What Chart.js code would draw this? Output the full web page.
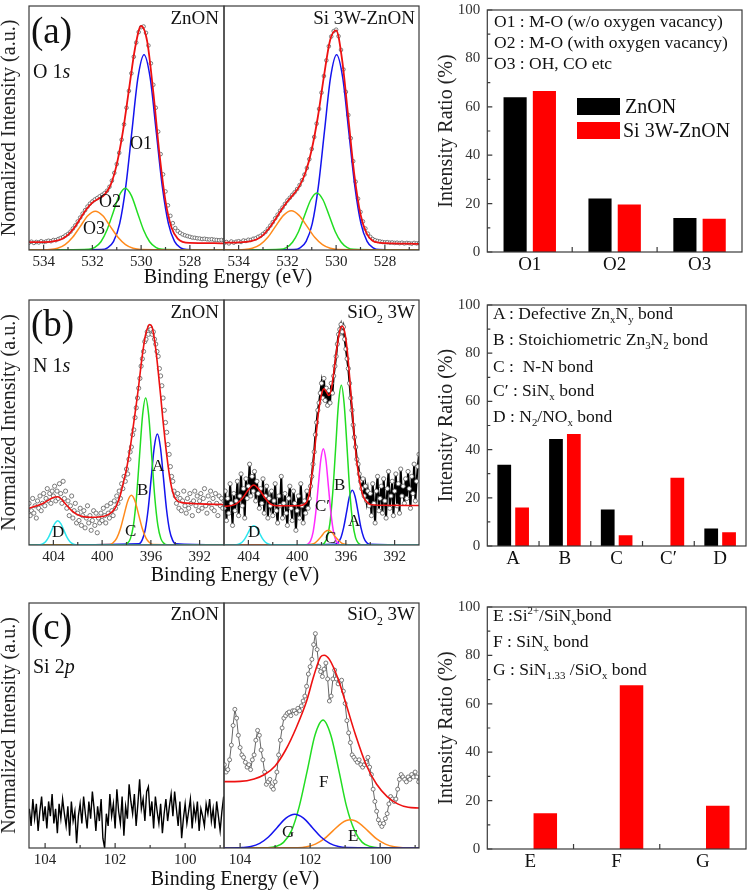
<!DOCTYPE html>
<html><head><meta charset="utf-8">
<script src="https://cdn.jsdelivr.net/npm/chart.js@4.4.1/dist/chart.umd.min.js"></script>
<style>
html,body{margin:0;padding:0;background:#fff;}
#root{position:relative;width:747px;height:890px;overflow:hidden;font-family:"Liberation Serif","Times New Roman",serif;color:#111;}
canvas{position:absolute;}
.t{position:absolute;white-space:nowrap;line-height:1;}
.t sub,.t sup{font-size:0.62em;line-height:0;position:relative;vertical-align:baseline;}
.t sub{top:0.38em;} .t sup{top:-0.6em;}
.box{position:absolute;}
</style></head>
<body><div id="root"></div>
<script>
// ---------------- DATA ----------------
// (a) O 1s
const O1S_TICKS = [534, 532, 530, 528];
const O1S_MINOR = [533, 531, 529, 527];
const O1S_RANGE = [526.6, 534.6];
const O1S_DATA_START = 534.6, O1S_DATA_STEP = 0.1;
const O1S_ZNON_DATA = [
 .030,.034,.029,.033,.031,.036,.032,.035,.038,.036,
 .041,.040,.045,.049,.053,.060,.066,.075,.088,.101,
 .117,.133,.149,.163,.178,.190,.199,.207,.213,.220,
 .226,.233,.243,.259,.284,.316,.352,.398,.452,.515,
 .583,.652,.724,.792,.850,.893,.913,.916,.890,.838,
 .765,.677,.583,.485,.393,.310,.240,.183,.140,.110,
 .090,.078,.070,.064,.060,.057,.054,.051,.050,.048,
 .047,.045,.046,.044,.043,.044,.042,.041,.040,.041,
 .040];
const O1S_ZNON_FIT = [[534.6,.032],[534.0,.032],[533.5,.037],[533.25,.045],[533.0,.062],[532.75,.090],[532.5,.128],[532.25,.166],[532.0,.194],[531.75,.210],[531.5,.227],[531.25,.267],[531.0,.351],[530.75,.484],[530.5,.656],[530.25,.827],[530.0,.918],[529.75,.854],[529.5,.646],[529.25,.396],[529.0,.200],[528.75,.091],[528.5,.047],[528.0,.029],[527.0,.028],[526.6,.027]];
const O1S_ZNON_O1 = [[534.6,0],[531.63,.002],[531.38,.009],[531.13,.035],[530.88,.108],[530.63,.26],[530.38,.485],[530.13,.706],[529.88,.80],[529.63,.706],[529.38,.485],[529.13,.26],[528.88,.108],[528.63,.035],[528.38,.009],[528.13,.002],[526.6,0]];
const O1S_ZNON_O2 = [[534.6,0],[532.15,.003],[531.9,.011],[531.65,.034],[531.4,.082],[531.15,.153],[530.9,.223],[530.65,.253],[530.4,.223],[530.15,.153],[529.9,.082],[529.65,.034],[529.4,.011],[529.15,.003],[526.6,0]];
const O1S_ZNON_O3 = [[534.6,0],[533.74,.002],[533.43,.007],[533.12,.022],[532.81,.052],[532.5,.096],[532.19,.140],[531.88,.159],[531.57,.140],[531.26,.096],[530.95,.052],[530.64,.022],[530.33,.007],[530.02,.002],[526.6,0]];
const O1S_SI_DATA = [
 .028,.033,.027,.035,.030,.034,.036,.033,.039,.037,
 .042,.041,.046,.048,.054,.058,.066,.074,.087,.100,
 .114,.130,.145,.161,.174,.189,.203,.214,.226,.237,
 .250,.266,.286,.309,.336,.372,.414,.463,.518,.578,
 .645,.713,.777,.835,.875,.897,.903,.876,.820,.740,
 .648,.553,.458,.364,.280,.210,.156,.117,.088,.067,
 .054,.045,.040,.037,.035,.033,.031,.032,.030,.031,
 .029,.030,.028,.030,.027,.029,.028,.026,.029,.027,
 .028];
const O1S_SI_FIT = [[534.6,.030],[534.0,.031],[533.5,.036],[533.25,.044],[533.0,.061],[532.75,.089],[532.5,.125],[532.25,.164],[532.0,.199],[531.75,.228],[531.5,.263],[531.25,.320],[531.0,.412],[530.75,.545],[530.5,.712],[530.25,.859],[530.0,.900],[529.75,.776],[529.5,.542],[529.25,.306],[529.0,.146],[528.75,.068],[528.5,.038],[528.25,.030],[528.0,.028],[527.0,.026],[526.6,.025]];
const O1S_SI_O1 = [[534.6,0],[531.73,.002],[531.48,.009],[531.23,.035],[530.98,.108],[530.73,.26],[530.48,.485],[530.23,.706],[529.98,.80],[529.73,.706],[529.48,.485],[529.23,.26],[528.98,.108],[528.73,.035],[528.48,.009],[528.23,.002],[526.6,0]];
const O1S_SI_O2 = [[534.6,0],[532.29,.003],[532.04,.010],[531.79,.032],[531.54,.076],[531.29,.142],[531.04,.206],[530.79,.234],[530.54,.206],[530.29,.142],[530.04,.076],[529.79,.032],[529.54,.010],[529.29,.003],[526.6,0]];
const O1S_SI_O3 = [[534.6,0],[533.76,.002],[533.44,.007],[533.12,.022],[532.8,.052],[532.48,.098],[532.16,.142],[531.84,.161],[531.52,.142],[531.2,.098],[530.88,.052],[530.56,.022],[530.24,.007],[529.92,.002],[526.6,0]];

// (b) N 1s
const N1S_TICKS = [404, 400, 396, 392];
const N1S_MINOR = [402, 398, 394];
const N1S_RANGE = [390, 406];
const N1S_DATA_START = 406.0, N1S_DATA_STEP = 0.1;
const N1S_ZNON_DATA = [
 .17,.12,.14,.19,.13,.16,.11,.18,.15,.20,
 .14,.17,.21,.16,.19,.23,.18,.21,.17,.22,
 .20,.24,.18,.22,.19,.25,.21,.17,.26,.19,
 .22,.15,.18,.12,.16,.20,.11,.14,.17,.09,
 .13,.10,.15,.08,.12,.14,.07,.11,.16,.09,
 .12,.06,.10,.14,.08,.13,.05,.11,.09,.13,
 .10,.15,.12,.09,.16,.13,.11,.17,.14,.12,
 .18,.15,.20,.17,.22,.19,.25,.23,.28,.26,
 .31,.29,.35,.38,.40,.45,.47,.52,.56,.60,
 .64,.68,.73,.76,.79,.83,.84,.87,.86,.89,
 .88,.86,.87,.84,.82,.79,.77,.72,.69,.65,
 .60,.55,.50,.46,.41,.37,.32,.28,.26,.22,
 .20,.17,.21,.15,.19,.14,.18,.22,.16,.13,
 .19,.15,.21,.17,.12,.18,.22,.16,.20,.14,
 .18,.21,.15,.19,.23,.16,.13,.20,.17,.22,
 .15,.19,.14,.21,.17,.12,.20,.16,.19,.15,
 .18];
const N1S_ZNON_FIT = [[406.0,.150],[405.5,.158],[405.0,.166],[404.5,.180],[404.0,.194],[403.64,.197],[403.3,.185],[403.0,.167],[402.5,.140],[402.1,.126],[401.5,.115],[401.0,.113],[400.5,.113],[400.0,.116],[399.5,.124],[399.0,.145],[398.8,.164],[398.5,.205],[398.3,.246],[398.0,.310],[397.7,.396],[397.5,.465],[397.2,.573],[397.0,.650],[396.8,.736],[396.6,.810],[396.43,.859],[396.2,.895],[396.1,.900],[395.9,.890],[395.77,.859],[395.6,.800],[395.4,.709],[395.2,.610],[395.0,.505],[394.8,.410],[394.6,.328],[394.4,.260],[394.18,.212],[394.0,.190],[393.77,.178],[393.5,.174],[393.1,.171],[392.0,.168],[390.0,.165]];
const N1S_ZNON_A = [[406,0],[396.97,.005],[396.72,.020],[396.47,.061],[396.22,.147],[395.97,.275],[395.72,.400],[395.47,.453],[395.22,.400],[394.97,.275],[394.72,.147],[394.47,.061],[394.22,.020],[393.97,.005],[390,0]];
const N1S_ZNON_B = [[406,0],[398.18,.001],[397.93,.007],[397.68,.026],[397.43,.081],[397.18,.195],[396.93,.364],[396.68,.53],[396.43,.60],[396.18,.53],[395.93,.364],[395.68,.195],[395.43,.081],[395.18,.026],[394.93,.007],[394.68,.001],[390,0]];
const N1S_ZNON_C = [[406,0],[399.4,.002],[399.1,.009],[398.8,.028],[398.5,.066],[398.2,.123],[397.9,.179],[397.6,.203],[397.3,.179],[397.0,.123],[396.7,.066],[396.4,.028],[396.1,.009],[395.8,.002],[390,0]];
const N1S_ZNON_D = [[406,0],[405.14,.001],[404.89,.004],[404.64,.013],[404.39,.032],[404.14,.060],[403.89,.087],[403.64,.099],[403.39,.087],[403.14,.060],[402.89,.032],[402.64,.013],[402.39,.004],[402.14,.001],[390,0]];
const N1S_SI_DATA = [
 .15,.22,.10,.19,.13,.25,.17,.08,.21,.14,
 .18,.26,.12,.20,.29,.16,.23,.11,.27,.19,
 .24,.33,.20,.28,.22,.30,.18,.26,.21,.15,
 .23,.17,.27,.13,.20,.24,.11,.19,.16,.22,
 .12,.18,.25,.14,.09,.20,.16,.28,.11,.17,
 .21,.13,.08,.19,.24,.15,.10,.22,.17,.06,
 .14,.20,.11,.25,.16,.09,.18,.13,.22,.15,
 .19,.24,.28,.33,.38,.45,.50,.55,.58,.62,
 .66,.60,.68,.59,.64,.57,.63,.58,.66,.62,
 .69,.73,.77,.82,.86,.88,.90,.87,.89,.84,
 .80,.76,.72,.66,.60,.55,.49,.44,.40,.35,
 .33,.29,.26,.23,.27,.20,.24,.18,.22,.16,
 .21,.12,.25,.17,.09,.22,.28,.14,.19,.24,
 .13,.27,.18,.11,.23,.30,.15,.20,.26,.12,
 .22,.29,.16,.25,.13,.31,.20,.24,.17,.27,
 .19,.30,.23,.15,.28,.21,.33,.18,.26,.32,
 .37];
const N1S_SI_FIT = [[406.0,.158],[405.5,.160],[405.0,.168],[404.5,.190],[404.0,.225],[403.56,.245],[403.1,.225],[402.6,.190],[402.2,.168],[401.7,.160],[400.0,.160],[399.3,.170],[399.0,.210],[398.75,.300],[398.5,.420],[398.25,.540],[398.0,.615],[397.8,.638],[397.6,.625],[397.4,.610],[397.2,.635],[397.0,.700],[396.8,.780],[396.6,.850],[396.4,.890],[396.29,.893],[396.1,.870],[395.9,.800],[395.7,.690],[395.5,.560],[395.3,.440],[395.1,.340],[394.9,.270],[394.7,.220],[394.5,.190],[394.2,.172],[394.0,.165],[393.0,.162],[390.0,.161]];
const N1S_SI_A = [[406,0],[396.88,.003],[396.65,.010],[396.41,.030],[396.18,.072],[395.94,.135],[395.71,.197],[395.47,.223],[395.24,.197],[395.0,.135],[394.77,.072],[394.53,.030],[394.3,.010],[394.06,.003],[390,0]];
const N1S_SI_B = [[406,0],[398.02,.001],[397.78,.007],[397.55,.029],[397.31,.088],[397.08,.212],[396.84,.395],[396.61,.575],[396.37,.652],[396.14,.575],[395.9,.395],[395.67,.212],[395.43,.088],[395.2,.029],[394.96,.007],[394.73,.001],[390,0]];
const N1S_SI_C = [[406,0],[399.1,.001],[398.83,.003],[398.55,.008],[398.28,.020],[398.0,.036],[397.73,.053],[397.45,.060],[397.18,.053],[396.9,.036],[396.63,.020],[396.35,.008],[396.08,.003],[395.8,.001],[390,0]];
const N1S_SI_C2 = [[406,0],[399.32,.001],[399.11,.004],[398.9,.017],[398.69,.053],[398.48,.128],[398.27,.238],[398.06,.347],[397.85,.393],[397.64,.347],[397.43,.238],[397.22,.128],[397.01,.053],[396.8,.017],[396.59,.004],[396.38,.001],[390,0]];
const N1S_SI_D = [[406,0],[405.0,.001],[404.76,.004],[404.52,.011],[404.28,.026],[404.04,.048],[403.8,.070],[403.56,.079],[403.32,.070],[403.08,.048],[402.84,.026],[402.6,.011],[402.36,.004],[402.12,.001],[390,0]];

// (c) Si 2p
const SI2P_TICKS = [104, 102, 100];
const SI2P_MINOR = [103, 101, 99];
const SI2P_RANGE = [98.89, 104.46];
const SI2P_DATA_START = 104.45, SI2P_DATA_STEP = 0.05;
const SI2P_ZNON_DATA = [
 .16,.09,.20,.12,.18,.07,.15,.21,.11,.17,
 .08,.19,.13,.22,.10,.16,.06,.18,.12,.20,
 .14,.09,.17,.05,.19,.11,.15,.02,.13,.18,
 .10,.21,.14,.08,.19,.12,.23,.16,.07,.17,
 .11,.20,.04,.00,.14,.09,.22,.13,.18,.08,
 .24,.15,.10,.21,.05,.17,.12,.26,.19,.14,
 .22,.09,.18,.28,.16,.20,.11,.23,.25,.13,
 .19,.08,.21,.15,.10,.18,.06,.14,.20,.11,
 .17,.22,.13,.23,.16,.09,.19,.04,.12,.18,
 .10,.15,.20,.08,.17,.12,.19,.07,.16,.13,
 .09,.18,.14,.20,.11,.16,.08,.19,.13,.07,
 .15,.21];
const SI2P_SI_DATA = [
 .34,.31,.32,.36,.42,.50,.566,.53,.46,.41,
 .38,.37,.35,.33,.34,.32,.36,.38,.44,.48,
 .46,.40,.36,.31,.26,.27,.28,.25,.24,.27,
 .31,.38,.44,.49,.53,.54,.55,.555,.54,.56,
 .56,.55,.57,.56,.58,.60,.62,.66,.71,.74,
 .77,.83,.875,.81,.74,.72,.70,.73,.755,.69,
 .60,.62,.69,.726,.69,.67,.68,.685,.64,.59,
 .52,.47,.43,.38,.37,.36,.35,.36,.34,.33,
 .34,.35,.37,.33,.30,.24,.19,.15,.115,.10,
 .088,.10,.12,.14,.18,.21,.20,.19,.20,.24,
 .28,.30,.29,.28,.27,.29,.28,.30,.29,.31,
 .29,.27];
const SI2P_SI_FIT = [[104.46,.271],[104.0,.272],[103.6,.282],[103.3,.300],[103.0,.335],[102.7,.400],[102.4,.490],[102.1,.600],[101.9,.700],[101.7,.780],[101.6,.787],[101.45,.770],[101.2,.690],[101.0,.600],[100.7,.460],[100.4,.340],[100.1,.260],[99.8,.210],[99.5,.180],[99.2,.166],[98.89,.163]];
const SI2P_SI_E = [[104.46,0],[102.35,.001],[102.1,.005],[101.85,.016],[101.6,.037],[101.35,.070],[101.1,.102],[100.85,.115],[100.6,.102],[100.35,.070],[100.1,.037],[99.85,.016],[99.6,.005],[99.35,.001],[98.89,0]];
const SI2P_SI_F = [[104.46,0],[103.21,.001],[102.98,.006],[102.76,.023],[102.53,.071],[102.31,.170],[102.08,.317],[101.86,.461],[101.63,.522],[101.41,.461],[101.18,.317],[100.96,.170],[100.73,.071],[100.51,.023],[100.28,.006],[100.06,.001],[98.89,0]];
const SI2P_SI_G = [[104.46,0],[103.94,.002],[103.69,.006],[103.44,.019],[103.19,.045],[102.94,.084],[102.69,.122],[102.44,.138],[102.19,.122],[101.94,.084],[101.69,.045],[101.44,.019],[101.19,.006],[100.94,.002],[98.89,0]];

// Bar charts (intensity ratio, %)
const RATIO_TICKS = [0, 20, 40, 60, 80, 100];
const RATIO_MINOR = [10, 30, 50, 70, 90];
const SERIES_NAMES = ['ZnON', 'Si 3W-ZnON'];
const O_CATS = ['O1', 'O2', 'O3'];
const O_ZNON = [63.9, 22.1, 14.1];
const O_SI = [66.5, 19.6, 13.7];
const N_CATS = ['A', 'B', 'C', 'C\u2032', 'D'];
const N_ZNON = [33.7, 44.4, 15.1, 0, 7.3];
const N_SI = [16.0, 46.5, 4.5, 28.3, 5.7];
const SI_CATS = ['E', 'F', 'G'];
const SI_ZNON = [null, null, null];
const SI_SI = [14.8, 67.7, 17.9];

// ---------------- RENDER ----------------
const FONT = '"Liberation Serif","Times New Roman",serif';
Chart.defaults.font.family = FONT;
Chart.defaults.color = '#222';
const root = document.getElementById('root');

const COL = {red:'#ee1111', blue:'#1414ee', green:'#22dd22', orange:'#ff8a1c', cyan:'#2ee6ee', magenta:'#ff2bff'};

function canvasAt(l, t, w, h) {
  const c = document.createElement('canvas');
  c.width = w; c.height = h;
  c.style.left = l + 'px'; c.style.top = t + 'px';
  c.style.width = w + 'px'; c.style.height = h + 'px';
  root.appendChild(c);
  return c;
}
function addText(html, x, base, fs, align, extra) {
  const d = document.createElement('div');
  d.className = 't';
  d.innerHTML = html;
  d.style.fontSize = fs + 'px';
  d.style.top = (base - 0.8375 * fs) + 'px';
  d.style.left = x + 'px';
  if (align === 'right') d.style.transform = 'translateX(-100%)';
  else if (align === 'center') d.style.transform = 'translateX(-50%)';
  if (extra) Object.assign(d.style, extra);
  root.appendChild(d);
}
function addBox(x, y, w, h, color) {
  const d = document.createElement('div');
  d.className = 'box';
  Object.assign(d.style, {left:x+'px', top:y+'px', width:w+'px', height:h+'px', background:color});
  root.appendChild(d);
}

const framePlugin = {
  id: 'frame',
  afterDraw(chart, args, o) {
    const {ctx, chartArea: a} = chart;
    const sx = chart.scales.x, sy = chart.scales.y;
    ctx.save();
    ctx.strokeStyle = '#3a3a3a';
    ctx.lineWidth = 1.2;
    ctx.strokeRect(a.left, a.top, a.right - a.left, a.bottom - a.top);
    ctx.beginPath();
    const L = 5, l = 3;
    (o.xMajor || []).forEach(v => { const p = sx.getPixelForValue(v); ctx.moveTo(p, a.bottom); ctx.lineTo(p, a.bottom - L); });
    (o.xMinor || []).forEach(v => { const p = sx.getPixelForValue(v); ctx.moveTo(p, a.bottom); ctx.lineTo(p, a.bottom - l); });
    if (o.catBounds) {
      const n = sx.ticks.length;
      for (let i = 0; i < n - 1; i++) {
        const p = (sx.getPixelForTick(i) + sx.getPixelForTick(i + 1)) / 2;
        ctx.moveTo(p, a.bottom); ctx.lineTo(p, a.bottom - L);
      }
    }
    (o.yMajor || []).forEach(v => { const p = sy.getPixelForValue(v); ctx.moveTo(a.left, p); ctx.lineTo(a.left + L, p); });
    (o.yMinor || []).forEach(v => { const p = sy.getPixelForValue(v); ctx.moveTo(a.left, p); ctx.lineTo(a.left + l, p); });
    ctx.stroke();
    ctx.restore();
  }
};

function fitDS(pairs, color, width, order) {
  return {data: pairs.map(p => ({x: p[0], y: p[1]})), borderColor: color, borderWidth: width,
    pointRadius: 0, cubicInterpolationMode: 'monotone', fill: false, order: order};
}
function dataDS(values, start, step, st) {
  return Object.assign({
    data: values.map((v, i) => ({x: +(start - i * step).toFixed(3), y: v})),
    showLine: false, pointRadius: 2, pointBorderWidth: 0.8, pointBorderColor: '#5a5a5a',
    pointBackgroundColor: '#ffffff', borderColor: '#000', borderWidth: 1, tension: 0, fill: false, order: 10
  }, st || {});
}

function spectrum(cfg) {
  const top = cfg.plotTop - 12;
  const h = cfg.plotBottom - top + 22;
  const c = canvasAt(cfg.canvasLeft, top, cfg.canvasWidth, h);
  const yOpts = {display: !!cfg.yTitle, min: 0, max: 1, ticks: {display: false},
    grid: {display: false, drawTicks: false}, border: {display: false},
    title: {display: !!cfg.yTitle, text: cfg.yTitle || '', font: {size: 20, lineHeight: 1}, padding: 0, color: '#222'}};
  if (cfg.yTitle) yOpts.afterFit = s => { s.width = cfg.plotLeft - cfg.canvasLeft; };
  new Chart(c, {
    type: 'line',
    data: {datasets: cfg.datasets},
    options: {
      responsive: false, animation: false, devicePixelRatio: 1, events: [],
      layout: {autoPadding: false, padding: {top: 12, bottom: 0, left: cfg.yTitle ? 0 : cfg.plotLeft - cfg.canvasLeft, right: cfg.canvasLeft + cfg.canvasWidth - cfg.plotRight}},
      plugins: {legend: {display: false}, tooltip: {enabled: false}, frame: {xMajor: cfg.ticks, xMinor: cfg.minor}},
      scales: {
        x: {type: 'linear', reverse: true, min: cfg.range[0], max: cfg.range[1],
          afterBuildTicks: s => { s.ticks = cfg.ticks.map(v => ({value: v})); },
          ticks: {autoSkip: false, maxRotation: 0, padding: 3, font: {size: 15}, color: '#222', callback: v => String(v)},
          grid: {display: false, drawTicks: false}, border: {display: false},
          afterFit: s => { s.height = 22; }},
        y: yOpts
      }
    },
    plugins: [framePlugin]
  });
}

function bars(cfg) {
  const top = cfg.plotTop - 12;
  const h = cfg.plotBottom - top + 28;
  const c = canvasAt(420, top, 327, h);
  new Chart(c, {
    type: 'bar',
    data: {labels: cfg.cats, datasets: [
      {label: SERIES_NAMES[0], data: cfg.s1, backgroundColor: '#000000', borderWidth: 0, categoryPercentage: cfg.cp, barPercentage: cfg.bp},
      {label: SERIES_NAMES[1], data: cfg.s2, backgroundColor: '#ff0000', borderWidth: 0, categoryPercentage: cfg.cp, barPercentage: cfg.bp}
    ]},
    options: {
      responsive: false, animation: false, devicePixelRatio: 1, events: [],
      layout: {autoPadding: false, padding: {top: 12, bottom: 0, left: 0, right: 747 - cfg.plotRight}},
      plugins: {legend: {display: false}, tooltip: {enabled: false},
        frame: {yMajor: RATIO_TICKS, yMinor: RATIO_MINOR, catBounds: true}},
      scales: {
        x: {type: 'category', ticks: {font: {size: 19}, padding: 2, color: '#111'},
          grid: {display: false, drawTicks: false}, border: {display: false},
          afterFit: s => { s.height = 28; }},
        y: {min: 0, max: 100, afterBuildTicks: s => { s.ticks = RATIO_TICKS.map(v => ({value: v})); },
          ticks: {font: {size: 15}, padding: 7, color: '#333'},
          grid: {display: false, drawTicks: false}, border: {display: false},
          title: {display: true, text: 'Intensity Ratio (%)', font: {size: 20, lineHeight: 1}, padding: {top: 16.7, bottom: 0}, color: '#222'},
          afterFit: s => { s.width = 67.3; }}
      }
    },
    plugins: [framePlugin]
  });
}

const ROWS = [{t: 6, b: 250}, {t: 300, b: 545}, {t: 603, b: 848}];
const YT = 'Normalized Intensity (a.u.)';

// Row (a)
spectrum({canvasLeft: 0, canvasWidth: 226, plotLeft: 29, plotRight: 224, plotTop: ROWS[0].t, plotBottom: ROWS[0].b, yTitle: YT,
  range: O1S_RANGE, ticks: O1S_TICKS, minor: O1S_MINOR, datasets: [
    dataDS(O1S_ZNON_DATA, O1S_DATA_START, O1S_DATA_STEP, {pointRadius: 1.8}),
    fitDS(O1S_ZNON_O3, COL.orange, 1.5, 5), fitDS(O1S_ZNON_O2, COL.green, 1.5, 5), fitDS(O1S_ZNON_O1, COL.blue, 1.5, 5),
    fitDS(O1S_ZNON_FIT, COL.red, 1.8, 1)]});
spectrum({canvasLeft: 222, canvasWidth: 200, plotLeft: 224, plotRight: 419, plotTop: ROWS[0].t, plotBottom: ROWS[0].b,
  range: O1S_RANGE, ticks: O1S_TICKS, minor: O1S_MINOR, datasets: [
    dataDS(O1S_SI_DATA, O1S_DATA_START, O1S_DATA_STEP, {pointRadius: 1.8}),
    fitDS(O1S_SI_O3, COL.orange, 1.5, 5), fitDS(O1S_SI_O2, COL.green, 1.5, 5), fitDS(O1S_SI_O1, COL.blue, 1.5, 5),
    fitDS(O1S_SI_FIT, COL.red, 1.8, 1)]});
bars({plotTop: 6, plotBottom: 252, plotRight: 742, cats: O_CATS, s1: O_ZNON, s2: O_SI, cp: 0.69, bp: 0.79});

// Row (b)
spectrum({canvasLeft: 0, canvasWidth: 226, plotLeft: 29, plotRight: 224, plotTop: ROWS[1].t, plotBottom: ROWS[1].b, yTitle: YT,
  range: N1S_RANGE, ticks: N1S_TICKS, minor: N1S_MINOR, datasets: [
    dataDS(N1S_ZNON_DATA, N1S_DATA_START, N1S_DATA_STEP, {pointRadius: 2.1}),
    fitDS(N1S_ZNON_D, COL.cyan, 1.5, 5), fitDS(N1S_ZNON_C, COL.orange, 1.5, 5), fitDS(N1S_ZNON_B, COL.green, 1.5, 5), fitDS(N1S_ZNON_A, COL.blue, 1.5, 5),
    fitDS(N1S_ZNON_FIT, COL.red, 1.6, 1)]});
spectrum({canvasLeft: 222, canvasWidth: 200, plotLeft: 224, plotRight: 419, plotTop: ROWS[1].t, plotBottom: ROWS[1].b,
  range: N1S_RANGE, ticks: N1S_TICKS, minor: N1S_MINOR, datasets: [
    dataDS(N1S_SI_DATA, N1S_DATA_START, N1S_DATA_STEP, {pointRadius: 2.1, showLine: true, borderColor: '#000', borderWidth: 2}),
    fitDS(N1S_SI_D, COL.cyan, 1.5, 5), fitDS(N1S_SI_C, COL.orange, 1.5, 5), fitDS(N1S_SI_C2, COL.magenta, 1.5, 5),
    fitDS(N1S_SI_B, COL.green, 1.5, 5), fitDS(N1S_SI_A, COL.blue, 1.5, 5),
    fitDS(N1S_SI_FIT, COL.red, 1.6, 1)]});
bars({plotTop: 301, plotBottom: 546, plotRight: 746, cats: N_CATS, s1: N_ZNON, s2: N_SI, cp: 0.69, bp: 0.77});

// Row (c)
spectrum({canvasLeft: 0, canvasWidth: 226, plotLeft: 29, plotRight: 224, plotTop: ROWS[2].t, plotBottom: ROWS[2].b, yTitle: YT,
  range: SI2P_RANGE, ticks: SI2P_TICKS, minor: SI2P_MINOR, datasets: [
    dataDS(SI2P_ZNON_DATA, SI2P_DATA_START, SI2P_DATA_STEP, {showLine: true, pointRadius: 0, borderColor: '#000', borderWidth: 1.4})]});
spectrum({canvasLeft: 222, canvasWidth: 200, plotLeft: 224, plotRight: 419, plotTop: ROWS[2].t, plotBottom: ROWS[2].b,
  range: SI2P_RANGE, ticks: SI2P_TICKS, minor: SI2P_MINOR, datasets: [
    dataDS(SI2P_SI_DATA, SI2P_DATA_START, SI2P_DATA_STEP, {showLine: true, pointRadius: 2, borderColor: '#666', borderWidth: 1}),
    fitDS(SI2P_SI_G, COL.blue, 1.5, 5), fitDS(SI2P_SI_E, COL.orange, 1.5, 5), fitDS(SI2P_SI_F, COL.green, 1.5, 5),
    fitDS(SI2P_SI_FIT, COL.red, 1.6, 1)]});
bars({plotTop: 603, plotBottom: 849, plotRight: 746, cats: SI_CATS, s1: SI_ZNON, s2: SI_SI, cp: 0.69, bp: 0.79});

// ---------------- TEXT ----------------
addText('(a)', 31, 43, 37);
addText('O 1<i>s</i>', 33, 78, 20);
addText('(b)', 31, 336, 37);
addText('N 1<i>s</i>', 33, 372, 20);
addText('(c)', 31, 639, 37);
addText('Si 2<i>p</i>', 33, 673, 20);
addText('ZnON', 219, 24, 19, 'right');
addText('Si 3W-ZnON', 415, 24, 19, 'right');
addText('ZnON', 219, 318, 19, 'right');
addText('SiO<sub>2</sub> 3W', 415, 318, 19, 'right');
addText('ZnON', 219, 620, 19, 'right');
addText('SiO<sub>2</sub> 3W', 415, 620, 19, 'right');
addText('Binding Energy (eV)', 228, 283, 20, 'center');
addText('Binding Energy (eV)', 235, 581, 20, 'center');
addText('Binding Energy (eV)', 235, 885, 20, 'center');
// peak labels
addText('O1', 130, 149, 18);
addText('O2', 99, 207, 18);
addText('O3', 83, 234, 18);
addText('A', 152, 471, 17);
addText('B', 137, 495, 17);
addText('C', 125, 536, 17);
addText('D', 52, 537, 17);
addText('C\u2032', 315, 511, 17);
addText('B', 334, 490, 17);
addText('A', 348, 526, 17);
addText('C', 325, 543, 17);
addText('D', 248, 537, 17);
addText('F', 319, 787, 17);
addText('G', 282, 837, 17);
addText('E', 348, 841, 17);
// bar annotations (a)
addText('O1 : M-O (w/o oxygen vacancy)', 494, 27.5, 17.5);
addText('O2 : M-O (with oxygen vacancy)', 494, 48.5, 17.5);
addText('O3 : OH, CO etc', 494, 69.5, 17.5);
addBox(577, 98, 43, 17, '#000000');
addBox(577, 122, 43, 17, '#ff0000');
addText('ZnON', 625, 113, 20);
addText('Si 3W-ZnON', 623, 137, 20);
// bar annotations (b)
addText('A : Defective Zn<sub>x</sub>N<sub>y</sub> bond', 493, 320, 17.5);
addText('B : Stoichiometric Zn<sub>3</sub>N<sub>2</sub> bond', 493, 346, 17.5);
addText('C :&nbsp; N-N bond', 493, 372.5, 17.5);
addText('C\u2032 : SiN<sub>x</sub> bond', 493, 396.5, 17.5);
addText('D : N<sub>2</sub>/NO<sub>x</sub> bond', 493, 423, 17.5);
// bar annotations (c)
addText('E :Si<sup>2+</sup>/SiN<sub>x</sub>bond', 493, 621.5, 17.5);
addText('F : SiN<sub>x</sub> bond', 493, 648, 17.5);
addText('G : SiN<sub>1.33</sub> /SiO<sub>x</sub> bond', 493, 676, 17.5);
</script>
</body></html>
